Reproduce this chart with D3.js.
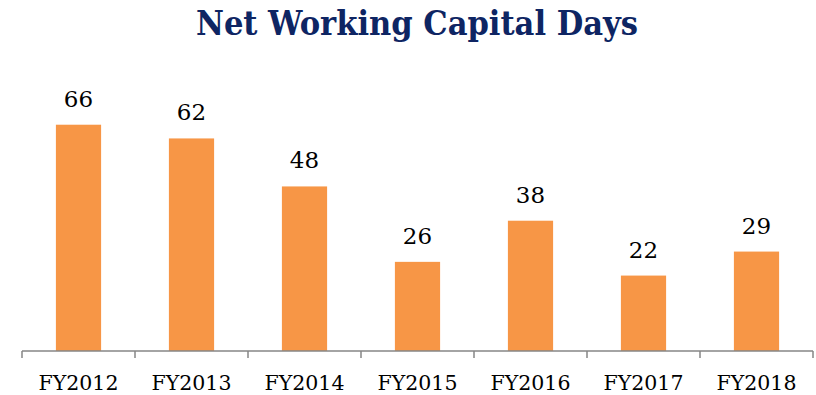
<!DOCTYPE html>
<html>
<head>
<meta charset="utf-8">
<script src="https://cdn.jsdelivr.net/npm/d3@7/dist/d3.min.js"></script>
<style>
  html, body { margin: 0; padding: 0; background: #fff; }
  svg { display: block; }
</style>
</head>
<body>
<svg id="chart" width="816" height="395"></svg>
<script>
// Net working capital days by fiscal year
const categories = ["FY2012", "FY2013", "FY2014", "FY2015", "FY2016", "FY2017", "FY2018"];
const values = [66, 62, 48, 26, 38, 22, 29];
const titleText = "Net Working Capital Days";

const width = 816, height = 395;
const margin = { left: 22, right: 3, top: 111, bottom: 44 };
const svg = d3.select("#chart");

const x = d3.scaleBand()
  .domain(categories)
  .range([margin.left, width - margin.right])
  .paddingInner(0.6)
  .paddingOuter(0.3);

const y = d3.scaleLinear()
  .domain([0, 70])
  .range([height - margin.bottom, margin.top]);

// Title
svg.append("text")
  .attr("x", 417)
  .attr("y", 35)
  .attr("text-anchor", "middle")
  .attr("font-family", "'DejaVu Serif Condensed', 'DejaVu Serif'")
  .attr("font-stretch", "condensed")
  .attr("font-weight", "bold")
  .attr("font-size", 34)
  .attr("fill", "#0E2563")
  .text(titleText);

// Bars
svg.append("g")
  .selectAll("rect")
  .data(values)
  .join("rect")
  .attr("x", (d, i) => x(categories[i]))
  .attr("y", d => y(d))
  .attr("width", x.bandwidth())
  .attr("height", d => y(0) - y(d))
  .attr("fill", "#F79646");

// Value labels
svg.append("g")
  .selectAll("text")
  .data(values)
  .join("text")
  .attr("x", (d, i) => x(categories[i]) + x.bandwidth() / 2)
  .attr("y", d => y(d) - 18)
  .attr("text-anchor", "middle")
  .attr("font-family", "DejaVu Serif")
  .attr("font-size", 23)
  .attr("fill", "#000")
  .text(d => d);

// Category axis with ticks at the band boundaries
const axisY = y(0);
const axis = svg.append("g");
axis.append("line")
  .attr("x1", margin.left).attr("x2", width - margin.right)
  .attr("y1", axisY).attr("y2", axisY)
  .attr("stroke", "#868686").attr("stroke-width", 1.5);

const boundaries = d3.range(categories.length + 1).map(i => margin.left + i * (width - margin.left - margin.right) / categories.length);
axis.selectAll("line.tick")
  .data(boundaries)
  .join("line")
  .attr("class", "tick")
  .attr("x1", d => d).attr("x2", d => d)
  .attr("y1", axisY).attr("y2", axisY + 7)
  .attr("stroke", "#868686").attr("stroke-width", 1.5);

axis.selectAll("text")
  .data(categories)
  .join("text")
  .attr("x", d => x(d) + x.bandwidth() / 2)
  .attr("y", 390)
  .attr("text-anchor", "middle")
  .attr("font-family", "DejaVu Serif")
  .attr("font-size", 20.5)
  .attr("fill", "#000")
  .text(d => d);
</script>
</body>
</html>
